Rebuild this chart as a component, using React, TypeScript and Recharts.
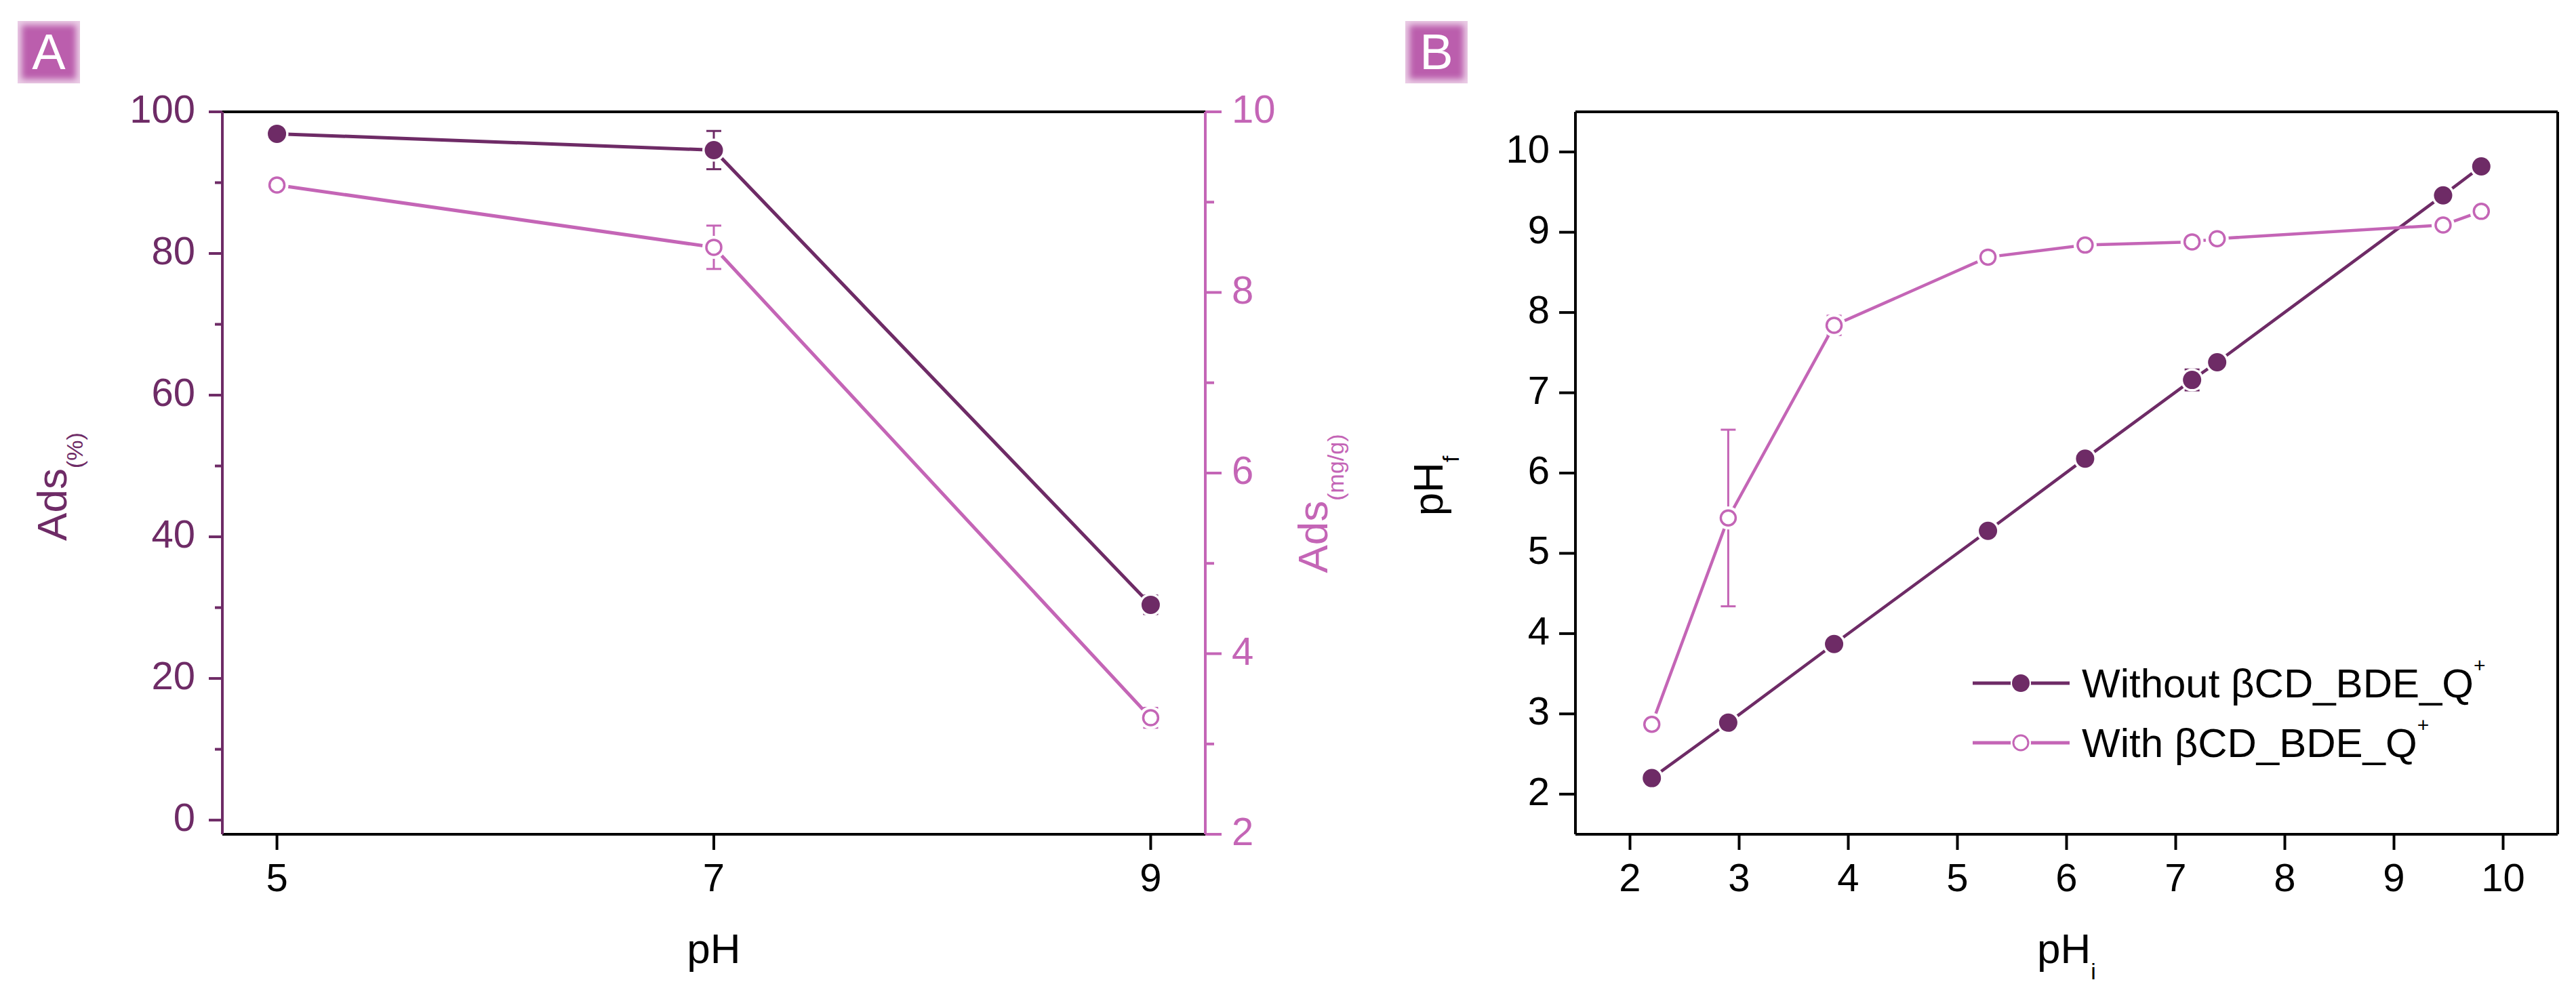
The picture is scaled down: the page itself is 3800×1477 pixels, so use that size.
import React from 'react';
import { LineChart, Line, XAxis, YAxis, ErrorBar, ReferenceLine, Legend } from 'recharts';

const DARK = '#6E2B66';
const PINK = '#C465B6';
const FONT = '"Liberation Sans", Arial, Helvetica, sans-serif';

// Panel A: adsorption vs pH
const phA = [5, 7, 9];
const adsPercent = [96.9, 94.6, 30.4];
const adsPercentErr = [0.5, 2.7, 1.3];
const adsMgG = [9.19, 8.5, 3.29];
const adsMgGErr = [0.07, 0.24, 0.11];
const phATicks = [5, 7, 9];
const percentTicks = [0, 10, 20, 30, 40, 50, 60, 70, 80, 90, 100];
const mgTicks = [2, 3, 4, 5, 6, 7, 8, 9, 10];

// Panel B: final pH vs initial pH
const pHi = [2.2, 2.9, 3.87, 5.28, 6.17, 7.15, 7.38, 9.45, 9.8];
const pHfWithout = [2.2, 2.89, 3.87, 5.28, 6.18, 7.16, 7.38, 9.46, 9.82];
const pHfWithoutErr = [0.05, 0.08, 0.05, 0.06, 0.03, 0.13, 0.03, 0.04, 0.05];
const pHfWith = [2.87, 5.44, 7.84, 8.69, 8.84, 8.88, 8.92, 9.09, 9.26];
const pHfWithErr = [0.06, 1.1, 0.12, 0.05, 0.04, 0.05, 0.05, 0.04, 0.06];
const pHTicksB = [2, 3, 4, 5, 6, 7, 8, 9, 10];

const legendItems = [
  { label: 'Without \u03B2CD_BDE_Q', color: DARK, filled: true },
  { label: 'With \u03B2CD_BDE_Q', color: PINK, filled: false },
];

const dataA = phA.map((ph, i) => ({
  ph,
  pct: adsPercent[i],
  pctErr: adsPercentErr[i],
  mg: adsMgG[i],
  mgErr: adsMgGErr[i],
}));

const dataB = pHi.map((x, i) => ({
  x,
  without: pHfWithout[i],
  withoutErr: pHfWithoutErr[i],
  withCD: pHfWith[i],
  withErr: pHfWithErr[i],
}));

// white ring so the line stops short of the marker, like the original
const haloDot = (p: any) =>
  p.cx == null ? null : <circle key={`h${p.index}`} cx={p.cx} cy={p.cy} r={17} fill="#fff" />;
const solidDot = (color: string) => (p: any) =>
  p.cx == null ? null : <circle key={`s${p.index}`} cx={p.cx} cy={p.cy} r={13.5} fill={color} />;
const openDot = (color: string) => (p: any) =>
  p.cx == null ? null : (
    <circle key={`o${p.index}`} cx={p.cx} cy={p.cy} r={11} fill="#fff" stroke={color} strokeWidth={3.5} />
  );

function yTick(side: 'left' | 'right', color: string, isMajor: (v: number) => boolean, majorLen: number, minorLen: number, gap: number) {
  return (p: any) => {
    const v = p.payload.value;
    const major = isMajor(v);
    const d = side === 'left' ? -1 : 1;
    const len = major ? majorLen : minorLen;
    return (
      <g>
        <line x1={p.x} y1={p.y} x2={p.x + d * len} y2={p.y} stroke={color} strokeWidth={4} />
        {major && (
          <text
            x={p.x + d * (majorLen + gap)}
            y={p.y + 16}
            textAnchor={side === 'left' ? 'end' : 'start'}
            fill={color}
            fontSize={58}
            fontFamily={FONT}
          >
            {v}
          </text>
        )}
      </g>
    );
  };
}

const xTick = (p: any) => (
  <g>
    <line x1={p.x} y1={p.y} x2={p.x} y2={p.y + 23} stroke="#000" strokeWidth={4} />
    <text x={p.x} y={p.y + 84} textAnchor="middle" fill="#000" fontSize={58} fontFamily={FONT}>
      {p.payload.value}
    </text>
  </g>
);

const yLabel = (main: string, sub: string, color: string, dx: number, dy: number) => (p: any) => {
  const vb = p.viewBox || { x: 0, y: 0, width: 0, height: 0 };
  const cx = vb.x + dx;
  const cy = vb.y + vb.height / 2 + dy;
  return (
    <text
      x={cx}
      y={cy}
      transform={`rotate(-90 ${cx} ${cy})`}
      textAnchor="middle"
      fill={color}
      fontSize={62}
      fontFamily={FONT}
    >
      {main}
      <tspan fontSize={34} dy={24}>{sub}</tspan>
    </text>
  );
};

const xLabel = (main: string, sub?: string) => (p: any) => {
  const vb = p.viewBox || { x: 0, y: 0, width: 0, height: 0 };
  return (
    <text x={vb.x + vb.width / 2} y={vb.y + 190} textAnchor="middle" fill="#000" fontSize={62} fontFamily={FONT}>
      {main}
      {sub && <tspan fontSize={34} dy={24}>{sub}</tspan>}
    </text>
  );
};

const renderLegend = () => (
  <svg width={820} height={180} style={{ overflow: 'visible' }}>
    {legendItems.map((it, i) => {
      const cy = 44 + i * 88;
      return (
        <g key={it.label}>
          <line x1={0} x2={143} y1={cy} y2={cy} stroke={it.color} strokeWidth={5} />
          <circle cx={71} cy={cy} r={15} fill="#fff" />
          {it.filled ? (
            <circle cx={71} cy={cy} r={13} fill={it.color} />
          ) : (
            <circle cx={71} cy={cy} r={11} fill="#fff" stroke={it.color} strokeWidth={3} />
          )}
          <text x={161} y={cy + 21} fontSize={60} fontFamily={FONT} fill="#000">
            {it.label}
            <tspan fontSize={30} dy={-37}>+</tspan>
          </text>
        </g>
      );
    })}
  </svg>
);

const PanelTag = ({ letter, left }: { letter: string; left: number }) => (
  <div
    style={{
      position: 'absolute',
      left,
      top: 31,
      width: 92,
      height: 92,
      background: '#BB5EAD',
      boxShadow: 'inset 0 0 10px 6px rgba(255,255,255,0.7)',
      color: '#fff',
      fontFamily: FONT,
      fontSize: 74,
      lineHeight: '92px',
      textAlign: 'center',
    }}
  >
    {letter}
  </div>
);

const ChartA = () => (
  <LineChart width={2000} height={1477} data={dataA} margin={{ top: 165, right: 0, bottom: 0, left: 0 }} style={{ fontFamily: FONT }}>
    <XAxis
      dataKey="ph"
      type="number"
      domain={[4.75, 9.25]}
      allowDataOverflow
      ticks={phATicks}
      interval={0}
      height={246}
      tickSize={0}
      tickMargin={0}
      tickLine={false}
      tick={xTick}
      axisLine={{ stroke: '#000', strokeWidth: 4 }}
      label={xLabel('pH')}
    />
    <YAxis
      yAxisId="left"
      type="number"
      domain={[-2, 100]}
      allowDataOverflow
      ticks={percentTicks}
      interval={0}
      width={328}
      tickSize={0}
      tickMargin={0}
      tickLine={false}
      tick={yTick('left', DARK, (v) => v % 20 === 0, 20, 11, 20)}
      axisLine={{ stroke: DARK, strokeWidth: 4 }}
      label={yLabel('Ads', '(%)', DARK, 98, 20)}
    />
    <YAxis
      yAxisId="right"
      orientation="right"
      type="number"
      domain={[2, 10]}
      allowDataOverflow
      ticks={mgTicks}
      interval={0}
      width={222}
      tickSize={0}
      tickMargin={0}
      tickLine={false}
      tick={yTick('right', PINK, (v) => v % 2 === 0, 24, 13, 15)}
      axisLine={{ stroke: PINK, strokeWidth: 4 }}
      label={yLabel('Ads', '(mg/g)', PINK, 180, 45)}
    />
    <ReferenceLine yAxisId="left" y={100} stroke="#000" strokeWidth={4} />

    <Line yAxisId="left" dataKey="pct" stroke={DARK} strokeWidth={5} dot={haloDot} activeDot={false} isAnimationActive={false} />
    <Line yAxisId="left" dataKey="pct" stroke="none" dot={false} activeDot={false} isAnimationActive={false}>
      <ErrorBar dataKey="pctErr" direction="y" width={11} strokeWidth={3} stroke={DARK} isAnimationActive={false} />
    </Line>
    <Line yAxisId="left" dataKey="pct" stroke="none" dot={solidDot(DARK)} activeDot={false} isAnimationActive={false} />

    <Line yAxisId="right" dataKey="mg" stroke={PINK} strokeWidth={5} dot={haloDot} activeDot={false} isAnimationActive={false} />
    <Line yAxisId="right" dataKey="mg" stroke="none" dot={false} activeDot={false} isAnimationActive={false}>
      <ErrorBar dataKey="mgErr" direction="y" width={11} strokeWidth={3} stroke={PINK} isAnimationActive={false} />
    </Line>
    <Line yAxisId="right" dataKey="mg" stroke="none" dot={openDot(PINK)} activeDot={false} isAnimationActive={false} />
  </LineChart>
);

const ChartB = () => (
  <LineChart width={1800} height={1477} data={dataB} margin={{ top: 165, right: 27, bottom: 0, left: 0 }} style={{ fontFamily: FONT }}>
    <XAxis
      dataKey="x"
      type="number"
      domain={[1.5, 10.5]}
      allowDataOverflow
      ticks={pHTicksB}
      interval={0}
      height={246}
      tickSize={0}
      tickMargin={0}
      tickLine={false}
      tick={xTick}
      axisLine={{ stroke: '#000', strokeWidth: 4 }}
      label={xLabel('pH', 'i')}
    />
    <YAxis
      type="number"
      domain={[1.5, 10.5]}
      allowDataOverflow
      ticks={pHTicksB}
      interval={0}
      width={324}
      tickSize={0}
      tickMargin={0}
      tickLine={false}
      tick={yTick('left', '#000', () => true, 24, 24, 14)}
      axisLine={{ stroke: '#000', strokeWidth: 4 }}
      label={yLabel('pH', 'f', '#000', 128, 19)}
    />
    <ReferenceLine y={10.5} stroke="#000" strokeWidth={4} />
    <ReferenceLine x={10.5} stroke="#000" strokeWidth={4} />

    <Line dataKey="without" stroke={DARK} strokeWidth={4.5} dot={haloDot} activeDot={false} isAnimationActive={false} />
    <Line dataKey="without" stroke="none" dot={false} activeDot={false} isAnimationActive={false}>
      <ErrorBar dataKey="withoutErr" direction="y" width={11} strokeWidth={3} stroke={DARK} isAnimationActive={false} />
    </Line>
    <Line dataKey="without" stroke="none" dot={solidDot(DARK)} activeDot={false} isAnimationActive={false} />

    <Line dataKey="withCD" stroke={PINK} strokeWidth={4.5} dot={haloDot} activeDot={false} isAnimationActive={false} />
    <Line dataKey="withCD" stroke="none" dot={false} activeDot={false} isAnimationActive={false}>
      <ErrorBar dataKey="withErr" direction="y" width={11} strokeWidth={3} stroke={PINK} isAnimationActive={false} />
    </Line>
    <Line dataKey="withCD" stroke="none" dot={openDot(PINK)} activeDot={false} isAnimationActive={false} />

    <Legend
      layout="horizontal"
      align="center"
      verticalAlign="middle"
      content={renderLegend}
      wrapperStyle={{ left: 910, top: 964, width: 820, height: 180 }}
    />
  </LineChart>
);

export default function App() {
  return (
    <div style={{ position: 'absolute', left: 0, top: 0, width: 3800, height: 1477, background: '#fff' }}>
      <div style={{ position: 'absolute', left: 0, top: 0 }}>
        <ChartA />
      </div>
      <div style={{ position: 'absolute', left: 2000, top: 0 }}>
        <ChartB />
      </div>
      <PanelTag letter="A" left={26} />
      <PanelTag letter="B" left={2073} />
    </div>
  );
}
